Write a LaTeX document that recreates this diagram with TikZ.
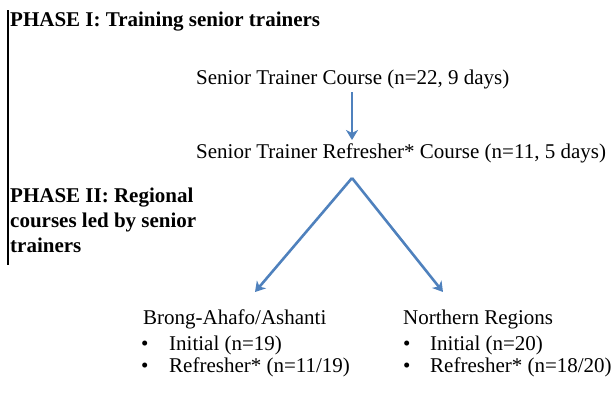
\documentclass[tikz,border=0pt]{standalone}
\usepackage{fontspec}
\setmainfont{Liberation Serif}
\usetikzlibrary{arrows.meta}
\definecolor{arrowblue}{HTML}{4F81BD}
\tikzset{
  txt/.style={inner sep=0pt, anchor=base west, font=\fontsize{21}{25}\selectfont},
  phase/.style={txt, font=\fontsize{21}{25}\selectfont\bfseries, align=left},
  flow/.style={arrowblue, line width=2.6pt, -{Stealth[length=10pt,width=12pt,inset=3pt]}},
  bullet/.style={txt}
}
\begin{document}
\begin{tikzpicture}[x=1pt,y=-1pt]
\useasboundingbox (0,0) rectangle (612,405);
\draw[line width=1.3pt] (8,10) coordinate (lt) -- (8,265) coordinate (lb);
\node[phase] (p1) at (10,26) {PHASE I: Training senior trainers};
\node[phase] (p2a) at (10,202) {PHASE II: Regional};
\node[phase] (p2b) at (10,227) {courses led by senior};
\node[phase] (p2c) at (10,252) {trainers};

\node[txt] (c1) at (196,84) {Senior Trainer Course (n=22, 9 days)};
\node[txt] (c2) at (196,158) {Senior Trainer Refresher* Course (n=11, 5 days)};

\coordinate (a1s) at (352,92);
\coordinate (a1e) at (352,140);
\coordinate (apex) at (352,178);
\coordinate (lend) at (255,292);
\coordinate (rend) at (443,292);
\draw[flow] (a1s) -- (a1e);
\draw[flow] (apex) -- (lend);
\draw[flow] (apex) -- (rend);

\node[txt] (r1) at (143,324) {Brong-Ahafo/Ashanti};
\node[txt] (r2) at (403,324) {Northern Regions};

\node[bullet] (b1) at (141,350) {\makebox[28pt][l]{\textbullet}Initial (n=19)};
\node[bullet] (b2) at (141,372) {\makebox[28pt][l]{\textbullet}Refresher* (n=11/19)};
\node[bullet] (b3) at (403,350) {\makebox[27pt][l]{\textbullet}Initial (n=20)};
\node[bullet] (b4) at (403,372) {\makebox[27pt][l]{\textbullet}Refresher* (n=18/20)};
\end{tikzpicture}
\end{document}
